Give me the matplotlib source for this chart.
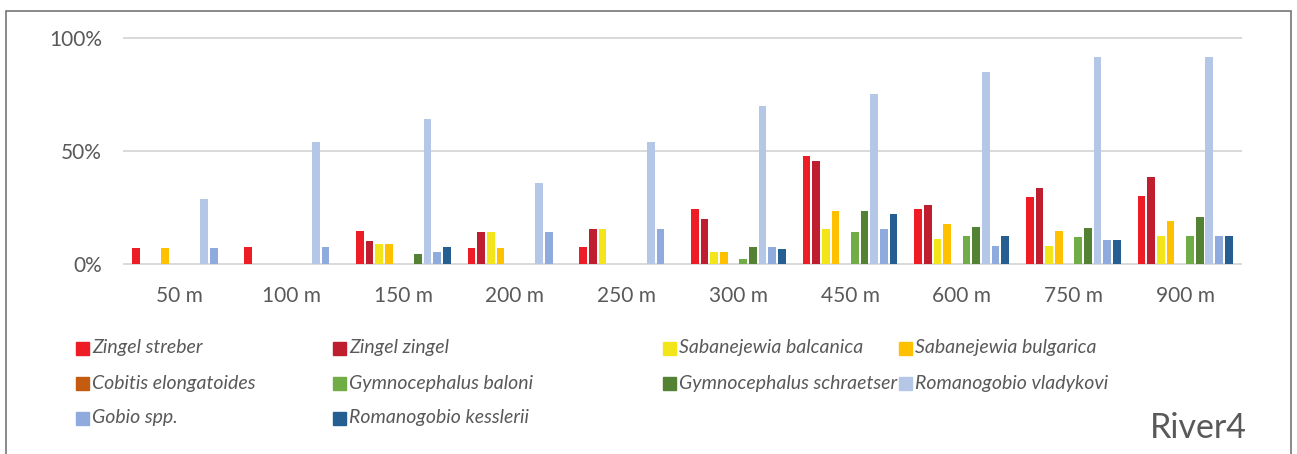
#!/usr/bin/env python
# -*- coding: utf-8 -*-

"""
Share of species per distance class, River4.
"""

import numpy as np
import matplotlib
matplotlib.use("Agg")
import matplotlib.pyplot as plt
from matplotlib.patches import Rectangle

# -- data
distances = ["50 m", "100 m", "150 m", "200 m", "250 m",
             "300 m", "450 m", "600 m", "750 m", "900 m"]

species = ["Zingel streber", "Zingel zingel", "Sabanejewia balcanica",
           "Sabanejewia bulgarica", "Cobitis elongatoides",
           "Gymnocephalus baloni", "Gymnocephalus schraetser",
           "Romanogobio vladykovi", "Gobio spp.", "Romanogobio kesslerii"]

zingel_streber        = [7.1, 7.7, 14.5, 7.1, 7.7, 24.5, 48.0, 24.5, 29.7, 30.2]
zingel_zingel         = [0.0, 0.0, 10.0, 14.3, 15.4, 20.0, 45.5, 26.0, 33.7, 38.3]
sabanejewia_balcanica = [0.0, 0.0, 8.9, 14.3, 15.4, 5.5, 15.5, 11.0, 8.0, 12.2]
sabanejewia_bulgarica = [7.1, 0.0, 8.9, 7.1, 0.0, 5.5, 23.3, 17.8, 14.8, 19.0]
cobitis_elongatoides  = [0.0, 0.0, 0.0, 0.0, 0.0, 0.0, 0.0, 0.0, 0.0, 0.0]
gymnocephalus_baloni  = [0.0, 0.0, 0.0, 0.0, 0.0, 2.0, 14.3, 12.2, 12.0, 12.2]
gymnocephalus_schraetser = [0.0, 0.0, 4.4, 0.0, 0.0, 7.5, 23.3, 16.4, 16.1, 20.6]
romanogobio_vladykovi = [28.6, 53.8, 64.0, 35.7, 53.8, 70.0, 75.3, 84.9, 91.8, 91.7]
gobio_spp             = [7.1, 7.7, 5.4, 14.3, 15.4, 7.5, 15.5, 8.0, 10.7, 12.2]
romanogobio_kesslerii = [0.0, 0.0, 7.7, 0.0, 0.0, 6.5, 22.0, 12.2, 10.7, 12.2]

values = [zingel_streber, zingel_zingel, sabanejewia_balcanica,
          sabanejewia_bulgarica, cobitis_elongatoides, gymnocephalus_baloni,
          gymnocephalus_schraetser, romanogobio_vladykovi, gobio_spp,
          romanogobio_kesslerii]

colors = ["#EE1C25", "#BE1E2D", "#F2E61A", "#FFC000", "#C55A11",
          "#70AD47", "#548235", "#B4C7E7", "#8FAADC", "#255E91"]

if __name__ == "__main__":

    plt.rcParams["font.family"] = ["Lato", "DejaVu Sans"]
    gray = "#595959"

    # -- set up the figure
    fig = plt.figure(figsize=(12.97, 4.54), dpi=100)
    ax = fig.add_axes([124 / 1297., 1 - 264 / 454., 1117 / 1297., 226 / 454.])

    # -- bars
    nser = len(species)
    step = 0.0866
    xx = np.arange(len(distances))
    for ii in range(nser):
        off = (ii - (nser - 1) / 2.0) * step
        ax.bar(xx + off, np.array(values[ii]) / 100., width=0.069,
               color=colors[ii], zorder=3)

    # -- axes styling
    ax.set_xlim(-0.5, len(distances) - 0.5)
    ax.set_ylim(0, 1)
    ax.set_yticks([0, 0.5, 1.0])
    ax.set_yticklabels(["0%", "50%", "100%"])
    ax.set_xticks(xx)
    ax.set_xticklabels(distances)
    for yy in [0, 0.5, 1.0]:
        ax.axhline(yy, color="#D9D9D9", lw=1.4, zorder=1, clip_on=False)
    for sp in ax.spines.values():
        sp.set_visible(False)
    ax.tick_params(axis="both", length=0, colors=gray, labelsize=15)
    ax.tick_params(axis="y", pad=16)
    ax.tick_params(axis="x", pad=16)

    # -- legend, laid out by hand in rows of four
    colx = [76, 333, 663, 899]
    rowy = [348, 383, 418]
    for ii, name in enumerate(species):
        cx = colx[ii % 4]
        cy = rowy[ii // 4]
        fig.patches.append(Rectangle((cx / 1297., 1 - (cy + 6.5) / 454.),
                                     13 / 1297., 13 / 454.,
                                     transform=fig.transFigure,
                                     color=colors[ii]))
        fig.text((cx + 16) / 1297., 1 - cy / 454., name, color=gray,
                 fontsize=14, style="italic", va="center", ha="left")

    # -- panel name
    fig.text(1247 / 1297., 1 - 428 / 454., "River4", color=gray,
             fontsize=24.5, ha="right", va="center")

    # -- frame round the panel
    fig.patches.append(Rectangle((6 / 1297., -0.1), 1285 / 1297., 1.1 - 11 / 454.,
                                 transform=fig.transFigure, fill=False,
                                 edgecolor="#767676", lw=1.2))

    fig.savefig("out.png", dpi=100)
